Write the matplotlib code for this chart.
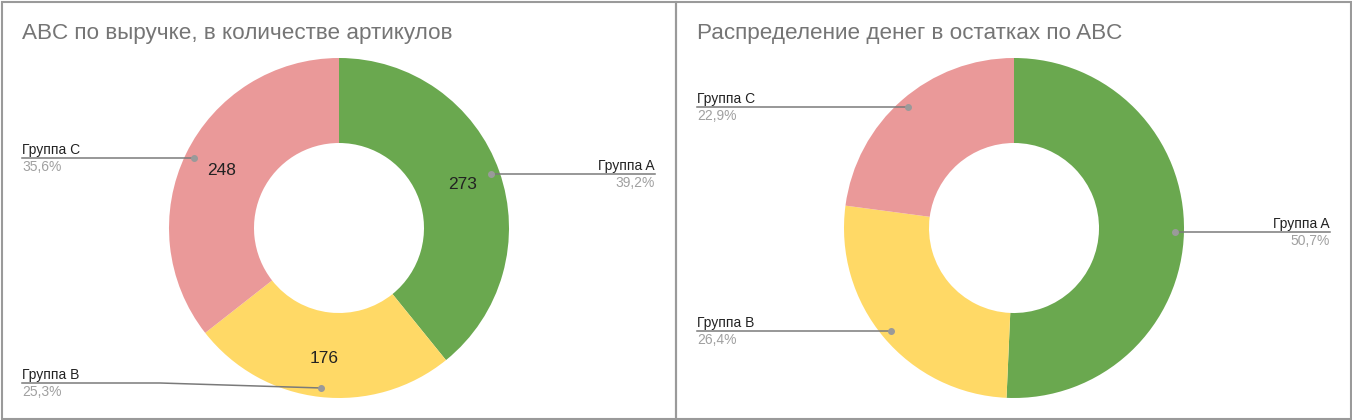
import numpy as np
import matplotlib.pyplot as plt
from matplotlib.patches import Rectangle

plt.rcParams['font.family'] = ['Liberation Sans', 'DejaVu Sans']

# ---------------------- Data ---------------------- #
groups = ['Группа A', 'Группа B', 'Группа C']
colors = ['#6aa84f', '#ffd966', '#ea9999']

left_title = 'ABC по выручке, в количестве артикулов'
left_counts = [273, 176, 248]

right_title = 'Распределение денег в остатках по ABC'
right_pcts = [50.7, 26.4, 22.9]

W, H = 1352, 420


def up(py):
    # pixel row (from top) -> data y (from bottom)
    return H - py


fig = plt.figure(figsize=(W / 100, H / 100), dpi=100)
ax = fig.add_axes([0, 0, 1, 1])

# panel borders
for x0, x1 in [(1.5, 675.5), (675.5, 1350.5)]:
    ax.add_patch(Rectangle((x0, up(419)), x1 - x0, 417, fill=False,
                           edgecolor='#9a9a9a', linewidth=1.5, zorder=0))


def donut(cx, cy, values, pct_labels, value_labels, label_layout, title, title_x):
    wedges, _ = ax.pie(values, colors=colors, startangle=90, counterclock=False,
                       center=(cx, up(cy)), radius=170,
                       wedgeprops=dict(width=85, linewidth=0))
    for i, w in enumerate(wedges):
        mid = np.deg2rad((w.theta1 + w.theta2) / 2)
        dx, dy = np.cos(mid), np.sin(mid)
        if value_labels is not None:
            ax.text(cx + 131 * dx, up(cy) + 131 * dy, value_labels[i],
                    ha='center', va='center', fontsize=12.5, color='#222222')
        px, py = cx + 161 * dx, up(cy) + 161 * dy
        end_x, line_py, elbow_x = label_layout[i]
        if elbow_x is not None:
            ly = up(line_py)
            xs, ys = [px, elbow_x, end_x], [py, ly, ly]
        else:
            ly = py
            xs, ys = [px, end_x], [py, py]
        ax.plot(xs, ys, color='#7a7a7a', linewidth=1.1, zorder=3)
        ax.plot(px, py, 'o', color='#9a9a9a', markersize=4, zorder=4)
        ha = 'right' if end_x > px else 'left'
        ax.text(end_x, ly + 8, groups[i], ha=ha, va='center',
                fontsize=10, color='#222222')
        ax.text(end_x, ly - 9, pct_labels[i], ha=ha, va='center',
                fontsize=10, color='#a0a0a0')
    ax.text(title_x, up(34), title, ha='left', va='center',
            fontsize=16.2, color='#757575')


left_pcts = [f'{v / sum(left_counts) * 100:.1f}%'.replace('.', ',') for v in left_counts]
donut(339, 228, left_counts, left_pcts, [str(v) for v in left_counts],
      [(655, None, None), (22, 383, 160), (22, None, None)],
      left_title, 22)

right_labels = [f'{v:.1f}%'.replace('.', ',') for v in right_pcts]
donut(1014, 228, right_pcts, right_labels, None,
      [(1330, None, None), (697, None, None), (697, None, None)],
      right_title, 697)

ax.set_xlim(0, W)
ax.set_ylim(0, H)
ax.set_aspect('auto')
ax.axis('off')

fig.savefig('out.png', dpi=100, facecolor='white')
